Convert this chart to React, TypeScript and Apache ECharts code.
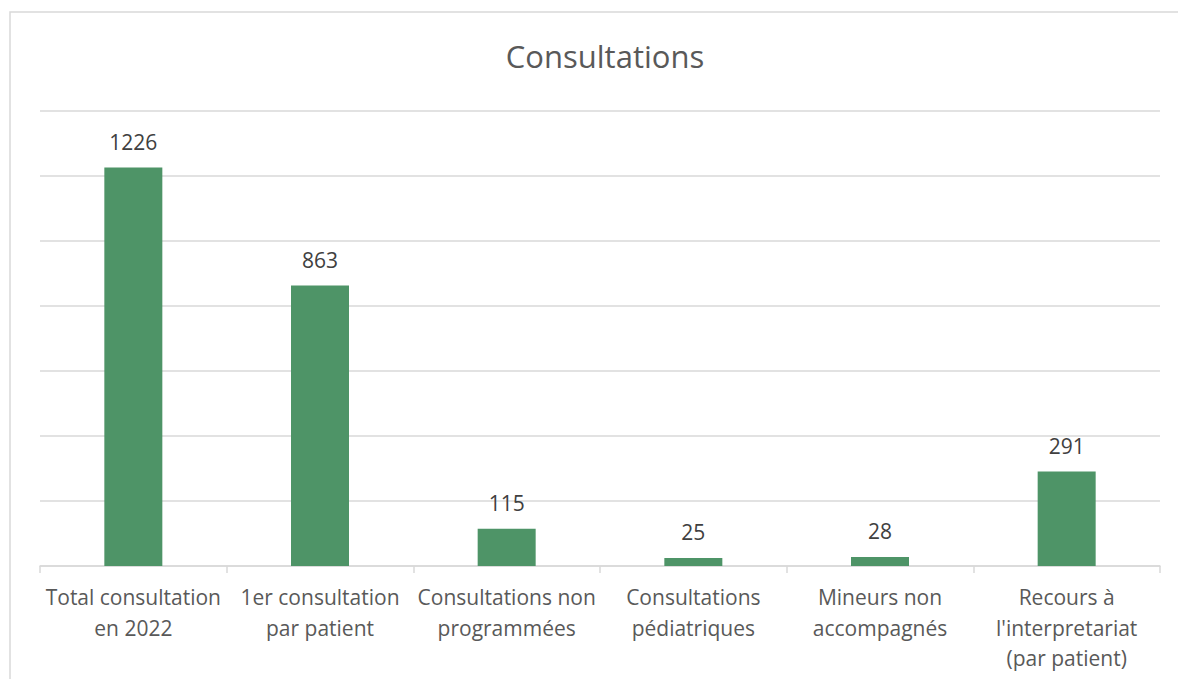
import React, { useEffect, useRef } from "react";
import * as echarts from "echarts";

const categories = [
  "Total consultation\nen 2022",
  "1er consultation\npar patient",
  "Consultations non\nprogrammées",
  "Consultations\npédiatriques",
  "Mineurs non\naccompagnés",
  "Recours à\nl'interpretariat\n(par patient)",
];
const values = [1226, 863, 115, 25, 28, 291];
const yMin = 0;
const yMax = 1400;
const yInterval = 200;

export default function App() {
  const ref = useRef<HTMLDivElement>(null);
  useEffect(() => {
    if (!ref.current) return;
    const chart = echarts.init(ref.current, null, { renderer: "svg" });
    chart.setOption({
      animation: false,
      backgroundColor: "#ffffff",
      title: {
        text: "Consultations",
        left: 600,
        top: 35,
        textAlign: "center",
        textStyle: { fontFamily: "Open Sans", fontSize: 31, fontWeight: "normal", color: "#595959" },
      },
      graphic: [
        {
          type: "rect",
          shape: { x: 10, y: 12, width: 1200, height: 700 },
          style: { fill: "none", stroke: "#d9d9d9", lineWidth: 1.5 },
          silent: true,
        },
      ],
      grid: { left: 40, right: 18, top: 111, bottom: 113 },
      xAxis: {
        type: "category",
        data: categories,
        axisLine: { lineStyle: { color: "#d9d9d9", width: 1.5 } },
        axisTick: { show: true, length: 7, lineStyle: { color: "#d9d9d9", width: 1.5 } },
        axisLabel: {
          interval: 0,
          margin: 16,
          fontFamily: "Open Sans",
          fontSize: 21,
          lineHeight: 30.5,
          color: "#595959",
        },
      },
      yAxis: {
        type: "value",
        min: yMin,
        max: yMax,
        interval: yInterval,
        axisLabel: { show: false },
        axisLine: { show: false },
        axisTick: { show: false },
        splitLine: { lineStyle: { color: "#d9d9d9", width: 1.5 } },
      },
      series: [
        {
          type: "bar",
          data: values,
          barWidth: 58,
          itemStyle: { color: "#4e9467" },
          label: {
            show: true,
            position: "top",
            distance: 15,
            fontFamily: "Open Sans",
            fontSize: 21,
            color: "#404040",
          },
        },
      ],
    });
    return () => chart.dispose();
  }, []);
  return (
    <div
      ref={ref}
      style={{ position: "fixed", left: 0, top: 0, width: 1178, height: 679 }}
    />
  );
}
